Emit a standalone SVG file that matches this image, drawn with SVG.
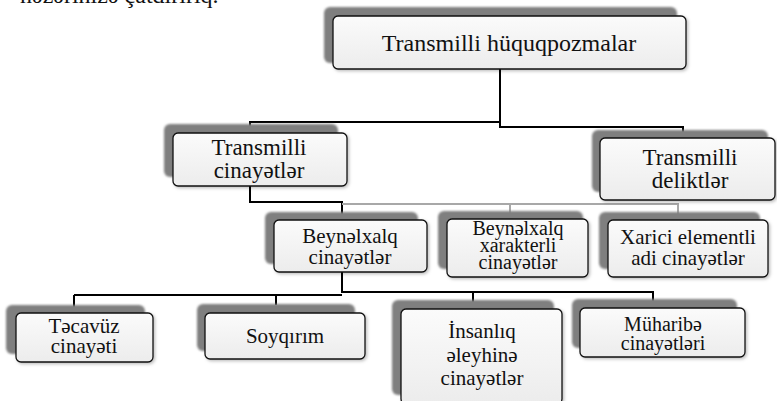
<svg xmlns="http://www.w3.org/2000/svg" width="777" height="401" viewBox="0 0 777 401">
<style>
.shd{fill:#7f7f7f;filter:url(#blur)}
.box{fill:url(#g);stroke:#111;stroke-width:1.3;filter:url(#soft)}
.con{fill:none;stroke:#000;stroke-width:2}
.gry{fill:none;stroke:#a8a8a8;stroke-width:2}
</style>
<defs>
<linearGradient id="g" x1="0" y1="0" x2="0" y2="1">
<stop offset="0" stop-color="#fbfbfb"/>
<stop offset="1" stop-color="#ececec"/>
</linearGradient>
<filter id="blur" x="-10%" y="-20%" width="120%" height="140%"><feGaussianBlur stdDeviation="1.2"/></filter>
<filter id="soft" x="-10%" y="-20%" width="125%" height="150%"><feDropShadow dx="1.5" dy="1.5" stdDeviation="1.5" flood-color="#000" flood-opacity="0.25"/></filter>
</defs>
<rect width="777" height="401" fill="#fff"/>
<text x="20" y="3" fill="#111" style="font-family:'Liberation Serif',serif;font-size:24px">nəzərinizə çatdırırıq.</text>
<g id="connectors">
<path class="con" d="M500,69 V122 H250 V126"/>
<path class="con" d="M500,122 V127 H683 V132"/>
<path class="con" d="M250,186 V202 H342 V214"/>
<path class="gry" d="M342,204 H678 V214 M510,204 V213"/>
<path class="con" d="M342,272 V293 M74,295 H342 M342,292 H653 V302 M74,295 V307 M276,295 V305 M473,292 V302"/>
</g>
<g id="n-top">
<rect class="shd" x="324" y="7" width="353" height="56" rx="6"/>
<rect class="box" x="333" y="16" width="353" height="53" rx="5"/>
<text x="509" y="51" fill="#111" text-anchor="middle" style="font-family:'Liberation Serif',serif;font-size:24px">Transmilli hüquqpozmalar</text>
</g>
<g id="n-tc">
<rect class="shd" x="164" y="124" width="174" height="53" rx="6"/>
<rect class="box" x="173" y="133" width="174" height="53" rx="5"/>
<text x="259" y="155" fill="#111" text-anchor="middle" style="font-family:'Liberation Serif',serif;font-size:23px">Transmilli</text>
<text x="259" y="178" fill="#111" text-anchor="middle" style="font-family:'Liberation Serif',serif;font-size:23px">cinayətlər</text>
</g>
<g id="n-td">
<rect class="shd" x="592" y="130" width="176" height="62" rx="6"/>
<rect class="box" x="600" y="138" width="175" height="62" rx="5"/>
<text x="690" y="165" fill="#111" text-anchor="middle" style="font-family:'Liberation Serif',serif;font-size:23px">Transmilli</text>
<text x="690" y="188" fill="#111" text-anchor="middle" style="font-family:'Liberation Serif',serif;font-size:23px">deliktlər</text>
</g>
<g id="n-bc">
<rect class="shd" x="265" y="212" width="153" height="52" rx="6"/>
<rect class="box" x="274" y="220" width="153" height="52" rx="5"/>
<text x="350" y="243" fill="#111" text-anchor="middle" style="font-family:'Liberation Serif',serif;font-size:21px">Beynəlxalq</text>
<text x="350" y="264" fill="#111" text-anchor="middle" style="font-family:'Liberation Serif',serif;font-size:21px">cinayətlər</text>
</g>
<g id="n-bx">
<rect class="shd" x="438" y="211" width="145" height="58" rx="6"/>
<rect class="box" x="447" y="219" width="141" height="58" rx="5"/>
<text x="518" y="235" fill="#111" text-anchor="middle" style="font-family:'Liberation Serif',serif;font-size:20px">Beynəlxalq</text>
<text x="518" y="252" fill="#111" text-anchor="middle" style="font-family:'Liberation Serif',serif;font-size:20px">xarakterli</text>
<text x="518" y="269" fill="#111" text-anchor="middle" style="font-family:'Liberation Serif',serif;font-size:20px">cinayətlər</text>
</g>
<g id="n-xe">
<rect class="shd" x="599" y="212" width="161" height="57" rx="6"/>
<rect class="box" x="608" y="220" width="160" height="57" rx="5"/>
<text x="688" y="244" fill="#111" text-anchor="middle" style="font-family:'Liberation Serif',serif;font-size:21px">Xarici elementli</text>
<text x="688" y="265" fill="#111" text-anchor="middle" style="font-family:'Liberation Serif',serif;font-size:21px">adi cinayətlər</text>
</g>
<g id="n-tv">
<rect class="shd" x="6" y="305" width="139" height="49" rx="6"/>
<rect class="box" x="16" y="313" width="137" height="49" rx="5"/>
<text x="84" y="333" fill="#111" text-anchor="middle" style="font-family:'Liberation Serif',serif;font-size:21px">Təcavüz</text>
<text x="84" y="353" fill="#111" text-anchor="middle" style="font-family:'Liberation Serif',serif;font-size:21px">cinayəti</text>
</g>
<g id="n-sq">
<rect class="shd" x="197" y="304" width="158" height="47" rx="6"/>
<rect class="box" x="205" y="313" width="160" height="46" rx="5"/>
<text x="285" y="343" fill="#111" text-anchor="middle" style="font-family:'Liberation Serif',serif;font-size:21px">Soyqırım</text>
</g>
<g id="n-in">
<rect class="shd" x="392" y="300" width="162" height="95" rx="6"/>
<rect class="box" x="401" y="309" width="161" height="95" rx="5"/>
<text x="482" y="338" fill="#111" text-anchor="middle" style="font-family:'Liberation Serif',serif;font-size:21px">İnsanlıq</text>
<text x="482" y="362" fill="#111" text-anchor="middle" style="font-family:'Liberation Serif',serif;font-size:21px">əleyhinə</text>
<text x="482" y="385" fill="#111" text-anchor="middle" style="font-family:'Liberation Serif',serif;font-size:21px">cinayətlər</text>
</g>
<g id="n-mh">
<rect class="shd" x="572" y="299" width="165" height="49" rx="6"/>
<rect class="box" x="580" y="308" width="165" height="49" rx="5"/>
<text x="663" y="331" fill="#111" text-anchor="middle" style="font-family:'Liberation Serif',serif;font-size:20px">Müharibə</text>
<text x="663" y="350" fill="#111" text-anchor="middle" style="font-family:'Liberation Serif',serif;font-size:20px">cinayətləri</text>
</g>
</svg>
